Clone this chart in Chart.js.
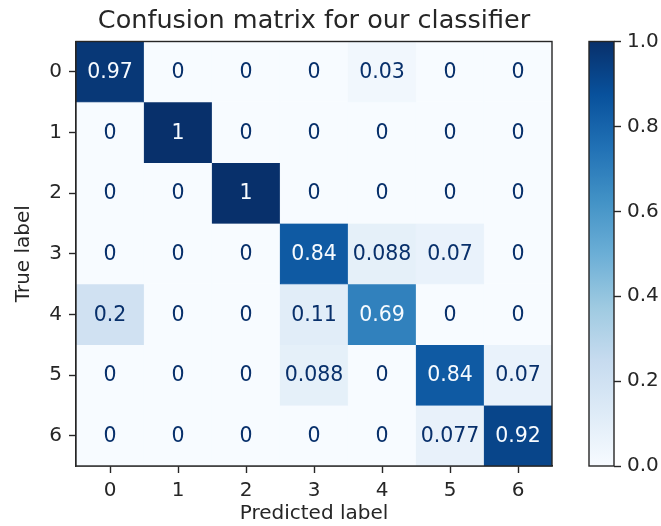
<!DOCTYPE html>
<html>
<head>
<meta charset="utf-8">
<script src="https://cdn.jsdelivr.net/npm/chart.js@4.4.1/dist/chart.umd.min.js"></script>
<style>
  html, body { margin: 0; padding: 0; background: #ffffff; }
  #wrap { position: relative; width: 661px; height: 526px; }
  #matrix { position: absolute; left: 0; top: 0; }
  #colorbar { position: absolute; left: 560px; top: 0; }
</style>
</head>
<body>
<div id="wrap">
  <canvas id="matrix" width="661" height="526"></canvas>
  <canvas id="colorbar" width="101" height="526"></canvas>
</div>
<script>
// Class labels on both axes
const predictedLabels = ['0', '1', '2', '3', '4', '5', '6'];
const trueLabels = ['0', '1', '2', '3', '4', '5', '6'];

// Normalised confusion matrix, one row per true label
const row0 = [0.97, 0, 0, 0, 0.03, 0, 0];
const row1 = [0, 1, 0, 0, 0, 0, 0];
const row2 = [0, 0, 1, 0, 0, 0, 0];
const row3 = [0, 0, 0, 0.84, 0.088, 0.07, 0];
const row4 = [0.2, 0, 0, 0.11, 0.69, 0, 0];
const row5 = [0, 0, 0, 0.088, 0, 0.84, 0.07];
const row6 = [0, 0, 0, 0, 0, 0.077, 0.92];
const rows = [row0, row1, row2, row3, row4, row5, row6];

// Colour bar ticks
const colorbarTicks = [0, 0.2, 0.4, 0.6, 0.8, 1.0];

const FONT = "'DejaVu Sans', 'Liberation Sans', sans-serif";
const INK = '#262626';
const LABEL_SIZE = 20;

// Sequential "Blues" colour map
const bluesStops = ['#f7fbff', '#deebf7', '#c6dbef', '#9ecae1', '#6baed6',
                    '#4292c6', '#2171b5', '#08519c', '#08306b'];
function hexToRgb(h) {
  return [parseInt(h.slice(1, 3), 16), parseInt(h.slice(3, 5), 16), parseInt(h.slice(5, 7), 16)];
}
function blues(t) {
  t = Math.max(0, Math.min(1, t));
  const pos = t * (bluesStops.length - 1);
  const i = Math.min(Math.floor(pos), bluesStops.length - 2);
  const f = pos - i;
  const a = hexToRgb(bluesStops[i]), b = hexToRgb(bluesStops[i + 1]);
  const c = a.map((v, k) => Math.round(v + (b[k] - v) * f));
  return `rgb(${c[0]},${c[1]},${c[2]})`;
}

// Each true-label row is a dataset of floating bars spanning one row band
const datasets = rows.map((vals, r) => ({
  label: trueLabels[r],
  data: vals.map(() => [r - 0.5, r + 0.5]),
  values: vals,
  backgroundColor: vals.map(v => blues(v)),
  borderColor: vals.map(v => blues(v)),
  borderWidth: 0.6,
  borderSkipped: false,
  grouped: false,
  barPercentage: 1.0,
  categoryPercentage: 1.0
}));

// Cell annotations and frame around the plot area
const cellText = {
  id: 'cellText',
  afterDatasetsDraw(chart) {
    const ctx = chart.ctx;
    ctx.save();
    ctx.font = `20.5px ${FONT}`;
    ctx.textAlign = 'center';
    ctx.textBaseline = 'middle';
    chart.data.datasets.forEach((ds, i) => {
      chart.getDatasetMeta(i).data.forEach((el, j) => {
        const v = ds.values[j];
        ctx.fillStyle = v < 0.5 ? blues(1) : blues(0);
        ctx.fillText(String(v), el.x, (el.y + el.base) / 2 + 1);
      });
    });
    const a = chart.chartArea;
    ctx.strokeStyle = INK;
    ctx.lineWidth = 1.4;
    ctx.strokeRect(a.left, a.top, a.right - a.left, a.bottom - a.top);
    ctx.restore();
  }
};

new Chart(document.getElementById('matrix'), {
  type: 'bar',
  data: { labels: predictedLabels, datasets },
  plugins: [cellText],
  options: {
    responsive: false,
    animation: false,
    layout: { padding: { left: 0, right: 109, top: 0, bottom: 0 } },
    plugins: {
      legend: { display: false },
      tooltip: { enabled: false },
      title: {
        display: true,
        fullSize: false,
        text: 'Confusion matrix for our classifier',
        color: INK,
        font: { family: FONT, size: 25.5, weight: 'normal' },
        padding: { top: 6, bottom: 4.9 }
      }
    },
    scales: {
      x: {
        type: 'category',
        grid: { display: true, drawOnChartArea: false, drawTicks: true, tickLength: 7, tickColor: INK, tickWidth: 1.4, offset: false },
        border: { display: true, color: INK, width: 1.4 },
        ticks: { color: INK, font: { family: FONT, size: LABEL_SIZE }, padding: 6, maxRotation: 0 },
        title: { display: true, text: 'Predicted label', color: INK, font: { family: FONT, size: LABEL_SIZE }, padding: { top: 0, bottom: 0 } },
        afterFit(scale) { scale.height = 60; }
      },
      y: {
        type: 'linear',
        reverse: true,
        min: -0.5,
        max: 6.5,
        afterBuildTicks(scale) { scale.ticks = trueLabels.map((_, i) => ({ value: i })); },
        grid: { display: true, drawOnChartArea: false, drawTicks: true, tickLength: 7, tickColor: INK, tickWidth: 1.4 },
        border: { display: true, color: INK, width: 1.4 },
        ticks: { color: INK, font: { family: FONT, size: LABEL_SIZE }, padding: 7, callback: v => trueLabels[v] },
        title: { display: true, text: 'True label', color: INK, font: { family: FONT, size: LABEL_SIZE }, padding: { top: 12, bottom: 0 } },
        afterFit(scale) { scale.width = 76; }
      }
    }
  }
});

// Colour bar: one bar from 0 to 1 filled with the colour map along the value axis
const colorbarFrame = {
  id: 'colorbarFrame',
  afterDatasetsDraw(chart) {
    const a = chart.chartArea, ctx = chart.ctx;
    ctx.save();
    ctx.strokeStyle = INK;
    ctx.lineWidth = 1.4;
    ctx.strokeRect(a.left, a.top, a.right - a.left, a.bottom - a.top);
    ctx.restore();
  }
};

new Chart(document.getElementById('colorbar'), {
  type: 'bar',
  data: {
    labels: [''],
    datasets: [{
      data: [[0, 1]],
      borderWidth: 0,
      barPercentage: 1.0,
      categoryPercentage: 1.0,
      backgroundColor(context) {
        const chart = context.chart;
        const area = chart.chartArea;
        if (!area) return blues(0.5);
        const y = chart.scales.y;
        const g = chart.ctx.createLinearGradient(0, y.getPixelForValue(0), 0, y.getPixelForValue(1));
        bluesStops.forEach((c, i) => g.addColorStop(i / (bluesStops.length - 1), c));
        return g;
      }
    }]
  },
  plugins: [colorbarFrame],
  options: {
    responsive: false,
    animation: false,
    layout: { padding: { left: 29, right: 0, top: 41.5, bottom: 60 } },
    plugins: { legend: { display: false }, tooltip: { enabled: false } },
    scales: {
      x: { display: false },
      y: {
        position: 'right',
        min: 0,
        max: 1,
        afterBuildTicks(scale) { scale.ticks = colorbarTicks.map(v => ({ value: v })); },
        grid: { display: true, drawOnChartArea: false, drawTicks: true, tickLength: 7, tickColor: INK, tickWidth: 1.4 },
        border: { display: false },
        ticks: { color: INK, font: { family: FONT, size: LABEL_SIZE }, padding: 6, callback: v => Number(v).toFixed(1) },
        afterFit(scale) { scale.width = 47; }
      }
    }
  }
});
</script>
</body>
</html>
